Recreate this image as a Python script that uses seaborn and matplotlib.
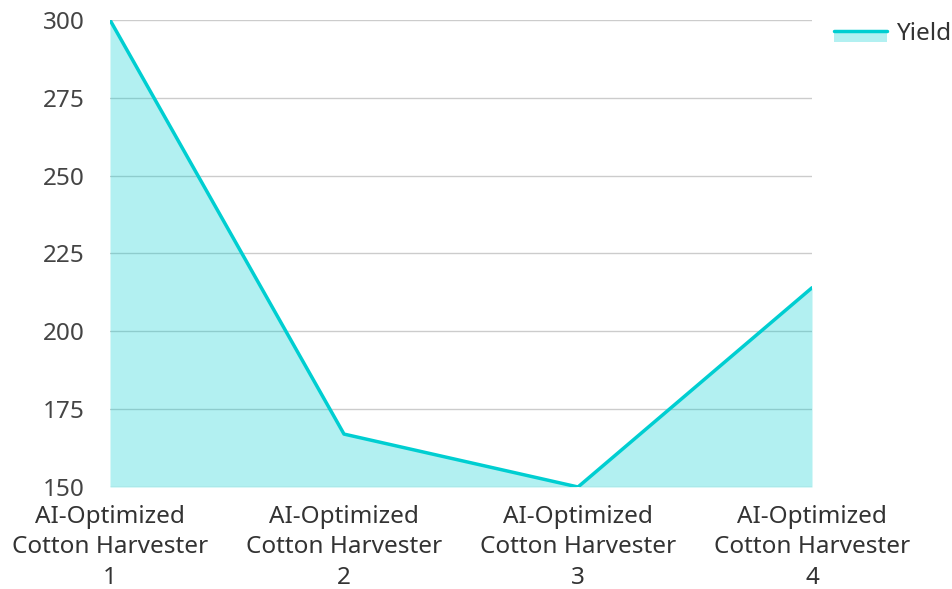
import matplotlib
matplotlib.use("Agg")
import matplotlib.pyplot as plt
import seaborn as sns
import pandas as pd
from matplotlib.patches import Rectangle
from matplotlib.lines import Line2D
from matplotlib.legend_handler import HandlerBase

categories = ["AI-Optimized\nCotton Harvester\n1", "AI-Optimized\nCotton Harvester\n2",
              "AI-Optimized\nCotton Harvester\n3", "AI-Optimized\nCotton Harvester\n4"]
yield_values = [300, 167, 150, 214]
y_ticks = [150, 175, 200, 225, 250, 275, 300]

sns.set_theme(style="white")
plt.rcParams['font.family'] = ['Noto Sans', 'DejaVu Sans']

df = pd.DataFrame({"x": range(len(categories)), "Yield": yield_values})

fig = plt.figure(figsize=(9.53, 5.89), dpi=100)
ax = fig.add_axes([110/953, 1-487/589, (812-110)/953, (487-20)/589])

color = "#00CED1"
ax.fill_between(df["x"], df["Yield"], 150, color=color, alpha=0.3, linewidth=0, zorder=2)
sns.lineplot(data=df, x="x", y="Yield", ax=ax, color=color, linewidth=2.5, zorder=3)

ax.set_xlim(0, 3)
ax.set_ylim(150, 300)
ax.set_yticks(y_ticks)
ax.set_xticks(range(len(categories)))
ax.set_xticklabels(categories, fontsize=17.5, color="#333333", linespacing=1.35)
ax.tick_params(axis='y', labelsize=17.5, labelcolor="#444444", length=0, pad=18)
ax.tick_params(axis='x', length=0, pad=13)
ax.set_xlabel("")
ax.set_ylabel("")
ax.grid(axis='y', color="#cccccc", linewidth=1, zorder=1)
for s in ax.spines.values():
    s.set_visible(False)


class AreaHandler(HandlerBase):
    def create_artists(self, legend, orig_handle, xdescent, ydescent, width, height, fontsize, trans):
        top = -ydescent + height * 0.5
        r = Rectangle((-xdescent, top - 0.62 * height), width, 0.62 * height, facecolor=color,
                      alpha=0.3, edgecolor='none', transform=trans)
        l = Line2D([-xdescent, -xdescent + width], [top, top],
                   color=color, linewidth=2.5, transform=trans)
        return [r, l]


proxy = Line2D([], [], color=color)
leg = fig.legend([proxy], ["Yield"], loc="center right", bbox_to_anchor=(951/953, 1-34/589),
                 frameon=False, fontsize=17.5, handlelength=2.2, handletextpad=0.35,
                 borderpad=0, borderaxespad=0,
                 labelcolor="#333333", handler_map={Line2D: AreaHandler()})

fig.savefig("out.png", dpi=100)
